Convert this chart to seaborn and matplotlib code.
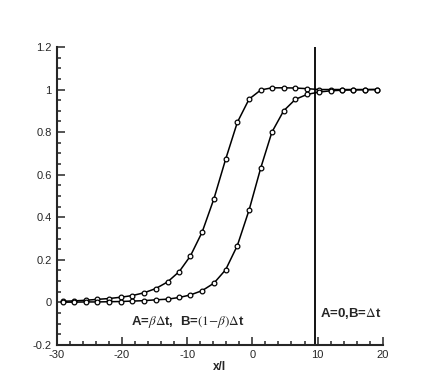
import numpy as np
import pandas as pd
import matplotlib
matplotlib.use("Agg")
import matplotlib.pyplot as plt
import seaborn as sns
from matplotlib.ticker import MultipleLocator

# du lieu doc tu hinh
x_vals = [-29.1, -27.3, -25.5, -23.8, -22.0, -20.2, -18.4, -16.6, -14.8, -13.0,
          -11.2, -9.5, -7.7, -5.9, -4.1, -2.3, -0.5, 1.3, 3.0, 4.8,
          6.6, 8.4, 10.2, 12.0, 13.8, 15.5, 17.3, 19.1]
y_left = [0.005, 0.007, 0.010, 0.014, 0.018, 0.024, 0.032, 0.045, 0.065, 0.096,
          0.145, 0.218, 0.330, 0.486, 0.672, 0.846, 0.955, 0.998, 1.008, 1.008,
          1.007, 1.004, 1.000, 1.000, 1.000, 1.000, 1.000, 1.000]
y_right = [0.001, 0.001, 0.002, 0.002, 0.003, 0.004, 0.006, 0.008, 0.012, 0.015,
           0.023, 0.035, 0.055, 0.090, 0.153, 0.267, 0.434, 0.633, 0.800, 0.900,
           0.954, 0.977, 0.988, 0.994, 0.997, 0.998, 0.999, 1.000]
x_wall = 9.6

sns.set_style("ticks")
plt.rcParams['font.family'] = ['Liberation Sans', 'DejaVu Sans']
plt.rcParams['mathtext.fontset'] = 'stix'
plt.rcParams['axes.unicode_minus'] = False

fig = plt.figure(figsize=(4.36, 3.88), dpi=100)
ax = fig.add_axes([0.130, 0.111, 0.748, 0.768])

for yy in (y_left, y_right):
    sns.lineplot(x=x_vals, y=yy, ax=ax, sort=False, color='k', lw=1.1,
                 marker='o', ms=3.4, mfc='white', mec='k', mew=0.9)

ax.axvline(x_wall, color='k', lw=1.3)

ax.set_xlim(-30, 20)
ax.set_ylim(-0.2, 1.2)
ax.xaxis.set_major_locator(MultipleLocator(10))
ax.xaxis.set_minor_locator(MultipleLocator(2))
ax.yaxis.set_major_locator(MultipleLocator(0.2))
ax.yaxis.set_minor_locator(MultipleLocator(0.05))
ax.yaxis.set_major_formatter(plt.FuncFormatter(lambda v, p: f"{v:g}"))
ax.tick_params(which='both', direction='in', labelsize=8, width=1.1)
ax.tick_params(which='major', length=6)
ax.tick_params(which='minor', length=3)
ax.spines['top'].set_visible(False)
ax.spines['right'].set_visible(False)
ax.spines['left'].set_linewidth(1.5)
ax.spines['bottom'].set_linewidth(1.5)

ax.set_xlabel('x/l', fontsize=8.5, fontweight='bold', labelpad=1)

ax.text(-18.6, -0.09, r'A=$\beta\Delta$t,  B=$(1{-}\beta)\Delta$t', fontsize=9.5,
        fontweight='bold', va='center', ha='left')
ax.text(10.4, -0.05, r'A=0,B=$\Delta$t', fontsize=9.5, fontweight='bold',
        va='center', ha='left')

fig.savefig('out.png', dpi=100)
